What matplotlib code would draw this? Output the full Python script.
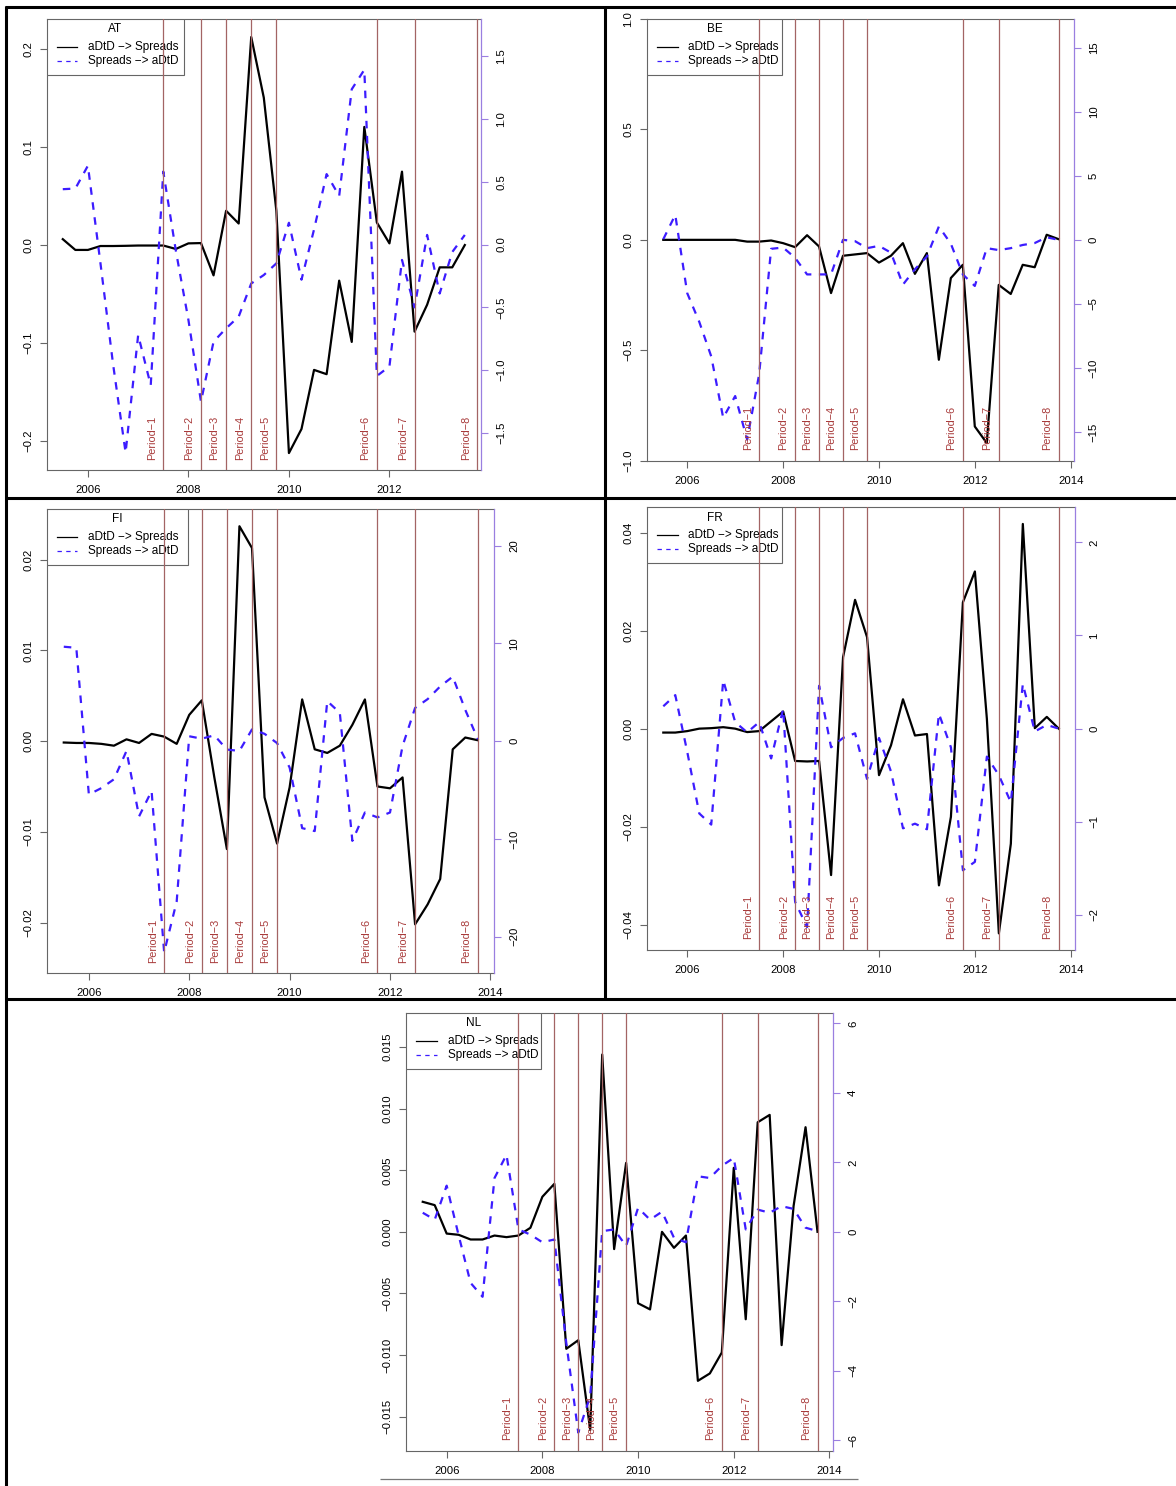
import matplotlib
matplotlib.use("Agg")
import matplotlib.pyplot as plt
import matplotlib.transforms as mtransforms
from matplotlib.lines import Line2D
from matplotlib.patches import Rectangle

plt.rcParams['font.family'] = ['Liberation Sans', 'DejaVu Sans']

# ---------------- data ----------------
QUARTERS = [2005.50, 2005.75, 2006.00, 2006.25, 2006.50, 2006.75, 2007.00, 2007.25,
            2007.50, 2007.75, 2008.00, 2008.25, 2008.50, 2008.75, 2009.00, 2009.25,
            2009.50, 2009.75, 2010.00, 2010.25, 2010.50, 2010.75, 2011.00, 2011.25,
            2011.50, 2011.75, 2012.00, 2012.25, 2012.50, 2012.75, 2013.00, 2013.25,
            2013.50, 2013.75]

PERIOD_DATES = [2007.50, 2008.25, 2008.75, 2009.25, 2009.75, 2011.75, 2012.50, 2013.75]
PERIOD_LABELS = ["Period\u22121", "Period\u22122", "Period\u22123", "Period\u22124",
                 "Period\u22125", "Period\u22126", "Period\u22127", "Period\u22128"]

SERIES_LABELS = ["aDtD \u2212> Spreads", "Spreads \u2212> aDtD"]

# AT (2005Q3 - 2013Q3, 33 quarters)
AT_DATES = QUARTERS[:33]
AT_ADTD_TO_SPREADS = [0.006, -0.005, -0.005, -0.001, -0.001, -0.0008, -0.0005, -0.0005,
                      -0.0005, -0.004, 0.0017, 0.002, -0.031, 0.035, 0.022, 0.2126,
                      0.1506, 0.035, -0.2126, -0.188, -0.1276, -0.132, -0.0364, -0.099,
                      0.1207, 0.023, 0.0017, 0.075, -0.0885, -0.061, -0.0228, -0.0228,
                      0.0]
AT_SPREADS_TO_ADTD = [0.44, 0.445, 0.627, -0.15, -0.95, -1.656, -0.72, -1.12,
                      0.58, -0.05, -0.6, -1.25, -0.773, -0.667, -0.574, -0.31,
                      -0.243, -0.15, 0.173, -0.28, 0.12, 0.56, 0.386, 1.235,
                      1.39, -1.046, -0.97, -0.123, -0.5, 0.076, -0.39, -0.06,
                      0.076]

# BE
BE_DATES = QUARTERS
BE_ADTD_TO_SPREADS = [0.0, 0.0, 0.0, 0.0, 0.0, 0.0, 0.0, -0.008,
                      -0.008, -0.003, -0.015, -0.033, 0.021, -0.03, -0.241, -0.072,
                      -0.066, -0.06, -0.103, -0.072, -0.015, -0.154, -0.06, -0.543,
                      -0.173, -0.113, -0.845, -0.92, -0.204, -0.245, -0.113, -0.124,
                      0.023, 0.003]
BE_SPREADS_TO_ADTD = [0.05, 1.95, -4.17, -6.4, -9.1, -13.9, -12.2, -15.6,
                      -10.5, -0.7, -0.6, -1.4, -2.7, -2.7, -2.7, 0.0,
                      -0.1, -0.65, -0.47, -1.0, -3.5, -2.3, -1.3, 1.04,
                      -0.3, -2.7, -3.6, -0.65, -0.8, -0.65, -0.4, -0.25,
                      0.2, 0.0]

# FI
FI_DATES = QUARTERS
FI_ADTD_TO_SPREADS = [-0.00015, -0.0002, -0.0002, -0.0003, -0.0005, 0.0002, -0.0002, 0.0008,
                      0.0005, -0.0003, 0.0029, 0.0045, -0.004, -0.0119, 0.0237, 0.0213,
                      -0.0062, -0.0113, -0.0051, 0.0046, -0.0009, -0.0013, -0.0005, 0.0018,
                      0.0046, -0.005, -0.0052, -0.004, -0.0202, -0.018, -0.0152, -0.0009,
                      0.0004, 0.0001]
FI_SPREADS_TO_ADTD = [9.66, 9.55, -5.46, -4.8, -3.9, -1.0, -7.7, -5.1,
                      -21.6, -16.4, 0.5, 0.25, 0.6, -0.86, -1.0, 1.2,
                      0.75, -0.2, -2.7, -8.9, -9.2, 4.1, 2.9, -10.2,
                      -7.3, -7.8, -7.3, -0.5, 3.4, 4.3, 5.6, 6.6,
                      3.2, 0.2]

# FR
FR_DATES = QUARTERS
FR_ADTD_TO_SPREADS = [-0.0008, -0.0008, -0.0005, 0.0, 0.0001, 0.0003, 0.0, -0.0007,
                      -0.0005, 0.0015, 0.0035, -0.0066, -0.0067, -0.0066, -0.0299, 0.0146,
                      0.0263, 0.0187, -0.0095, -0.0034, 0.006, -0.0014, -0.0011, -0.032,
                      -0.018, 0.0258, 0.0321, 0.002, -0.0418, -0.0235, 0.0418, 0.0001,
                      0.0024, 0.0]
FR_SPREADS_TO_ADTD = [0.24, 0.36, -0.25, -0.91, -1.03, 0.52, 0.07, -0.04,
                      0.07, -0.32, 0.21, -1.86, -2.13, 0.46, -0.2, -0.1,
                      -0.05, -0.54, -0.1, -0.46, -1.07, -1.02, -1.08, 0.16,
                      -0.2, -1.52, -1.43, -0.3, -0.5, -0.79, 0.48, -0.03,
                      0.04, 0.0]

# NL
NL_DATES = QUARTERS
NL_ADTD_TO_SPREADS = [0.00244, 0.00217, -0.00014, -0.00024, -0.00062, -0.00062, -0.0003, -0.00043,
                      -0.0003, 0.00033, 0.00285, 0.0039, -0.0095, -0.0088, -0.0161, 0.0144,
                      -0.0014, 0.0056, -0.0058, -0.0063, 0.0, -0.0013, -0.0003, -0.0121,
                      -0.0115, -0.0098, 0.0052, -0.0071, 0.0089, 0.0095, -0.0092, 0.0021,
                      0.0085, 0.0]
NL_SPREADS_TO_ADTD = [0.55, 0.35, 1.33, -0.1, -1.47, -1.87, 1.55, 2.22,
                      0.07, -0.08, -0.3, -0.22, -3.2, -5.78, -4.73, 0.02,
                      0.07, -0.41, 0.69, 0.35, 0.58, -0.17, -0.3, 1.6,
                      1.55, 1.9, 2.13, 0.07, 0.64, 0.55, 0.74, 0.66,
                      0.12, 0.02]

# tick values / labels
X_TICKS_AT = [2006, 2008, 2010, 2012]
X_TICKS = [2006, 2008, 2010, 2012, 2014]

AT_LEFT_TICKS = [-0.2, -0.1, 0.0, 0.1, 0.2]
AT_LEFT_LABELS = ["\u22120.2", "\u22120.1", "0.0", "0.1", "0.2"]
AT_RIGHT_TICKS = [-1.5, -1.0, -0.5, 0.0, 0.5, 1.0, 1.5]
AT_RIGHT_LABELS = ["\u22121.5", "\u22121.0", "\u22120.5", "0.0", "0.5", "1.0", "1.5"]

BE_LEFT_TICKS = [-1.0, -0.5, 0.0, 0.5, 1.0]
BE_LEFT_LABELS = ["\u22121.0", "\u22120.5", "0.0", "0.5", "1.0"]
BE_RIGHT_TICKS = [-15, -10, -5, 0, 5, 10, 15]
BE_RIGHT_LABELS = ["\u221215", "\u221210", "\u22125", "0", "5", "10", "15"]

FI_LEFT_TICKS = [-0.02, -0.01, 0.0, 0.01, 0.02]
FI_LEFT_LABELS = ["\u22120.02", "\u22120.01", "0.00", "0.01", "0.02"]
FI_RIGHT_TICKS = [-20, -10, 0, 10, 20]
FI_RIGHT_LABELS = ["\u221220", "\u221210", "0", "10", "20"]

FR_LEFT_TICKS = [-0.04, -0.02, 0.0, 0.02, 0.04]
FR_LEFT_LABELS = ["\u22120.04", "\u22120.02", "0.00", "0.02", "0.04"]
FR_RIGHT_TICKS = [-2, -1, 0, 1, 2]
FR_RIGHT_LABELS = ["\u22122", "\u22121", "0", "1", "2"]

NL_LEFT_TICKS = [-0.015, -0.010, -0.005, 0.0, 0.005, 0.010, 0.015]
NL_LEFT_LABELS = ["\u22120.015", "\u22120.010", "\u22120.005", "0.000", "0.005", "0.010", "0.015"]
NL_RIGHT_TICKS = [-6, -4, -2, 0, 2, 4, 6]
NL_RIGHT_LABELS = ["\u22126", "\u22124", "\u22122", "0", "2", "4", "6"]

# ---------------- styling ----------------
W, H = 1176, 1486
fig = plt.figure(figsize=(W / 100, H / 100), dpi=100)

BOX = '#666666'
PURPLE = '#9a7fe0'
BLUE = '#3c1cff'
PLINE = '#a36464'
PTEXT = '#a83a3a'
FS = 8.2


def fx(x):
    return x / W


def fy(y):
    return 1 - y / H


def panel(name, box, dates, black, blue, xlim, xticks, ylim1, yt1, yl1,
          ylim2, yt2, yl2, leg_w):
    L, T, R, B = box
    ax = fig.add_axes([fx(L), fy(B), (R - L) / W, (B - T) / H])
    ax.plot(dates, black, color='black', lw=1.6, zorder=2)
    ax.set_ylim(*ylim1)
    ax.set_yticks(yt1, yl1, rotation=90, va='center', fontsize=FS)
    ax.set_xticks(xticks, [str(t) for t in xticks], fontsize=FS)
    for sp in ax.spines.values():
        sp.set_color(BOX)
        sp.set_linewidth(0.8)
    ax.spines['right'].set_visible(False)
    ax.tick_params(axis='x', length=4.7, width=0.8, color=BOX, pad=6.0)
    ax.tick_params(axis='y', length=4.7, width=0.8, color=BOX, pad=5.0)

    ax2 = ax.twinx()
    ax2.plot(dates, blue, color=BLUE, lw=1.6, dashes=(3.4, 3.4), zorder=2)
    ax2.set_ylim(*ylim2)
    ax2.set_yticks(yt2, yl2, rotation=90, va='center', fontsize=FS)
    for k in ('left', 'top', 'bottom'):
        ax2.spines[k].set_visible(False)
    ax2.spines['right'].set_color(PURPLE)
    ax2.spines['right'].set_linewidth(0.9)
    ax2.tick_params(axis='y', length=4.7, width=0.8, color=PURPLE,
                    labelcolor='black', pad=6.0)

    # legend (drawn below the period lines, as in the original)
    h = 56
    rect = Rectangle((fx(L), fy(T + h)), leg_w / W, h / H, transform=fig.transFigure,
                     facecolor='white', edgecolor=BOX, lw=0.8, zorder=3)
    ax2.add_patch(rect)
    ax2.text(fx(L + leg_w / 2), fy(T + 10.5), name, transform=fig.transFigure,
             ha='center', va='center', fontsize=8.5, zorder=3.5)
    for i, (lab, col, ls) in enumerate(zip(SERIES_LABELS, ['black', BLUE],
                                           ['-', (0, (3.5, 3.5))])):
        yy = T + 28 + 14 * i
        ln = Line2D([fx(L + 10), fx(L + 30.5)], [fy(yy), fy(yy)], transform=fig.transFigure,
                    color=col, lw=0.9, linestyle=ls, zorder=3.5)
        ax2.add_line(ln)
        ax2.text(fx(L + 41.5), fy(yy), lab, transform=fig.transFigure,
                 ha='left', va='center', fontsize=8.5, zorder=3.5)

    # period lines and labels
    trans = (mtransforms.blended_transform_factory(ax2.transData, ax2.transAxes)
             + mtransforms.ScaledTranslation(-6.5 / 100, 10.5 / 100, fig.dpi_scale_trans))
    for d, lab in zip(PERIOD_DATES, PERIOD_LABELS):
        ax2.axvline(d, color=PLINE, lw=0.9, zorder=4)
        ax2.text(d, 0, lab, transform=trans, rotation=90, ha='right', va='bottom',
                 color=PTEXT, fontsize=7.8, zorder=5)
    ax.set_xlim(*xlim)
    return ax, ax2


panel('AT', (46.7, 19, 481.4, 470), AT_DATES, AT_ADTD_TO_SPREADS, AT_SPREADS_TO_ADTD,
      (2005.18, 2013.83), X_TICKS_AT, (-0.2299, 0.231), AT_LEFT_TICKS, AT_LEFT_LABELS,
      (-1.794, 1.794), AT_RIGHT_TICKS, AT_RIGHT_LABELS, 137)
panel('BE', (647, 19, 1074, 460.7), BE_DATES, BE_ADTD_TO_SPREADS, BE_SPREADS_TO_ADTD,
      (2005.16, 2014.07), X_TICKS, (-1.0, 1.0), BE_LEFT_TICKS, BE_LEFT_LABELS,
      (-17.25, 17.25), BE_RIGHT_TICKS, BE_RIGHT_LABELS, 135)
panel('FI', (46.7, 509, 494.4, 973.3), FI_DATES, FI_ADTD_TO_SPREADS, FI_SPREADS_TO_ADTD,
      (2005.16, 2014.08), X_TICKS, (-0.0256, 0.0256), FI_LEFT_TICKS, FI_LEFT_LABELS,
      (-23.75, 23.75), FI_RIGHT_TICKS, FI_RIGHT_LABELS, 141.5)
panel('FR', (647, 507.3, 1074.6, 950), FR_DATES, FR_ADTD_TO_SPREADS, FR_SPREADS_TO_ADTD,
      (2005.16, 2014.08), X_TICKS, (-0.0452, 0.0452), FR_LEFT_TICKS, FR_LEFT_LABELS,
      (-2.376, 2.376), FR_RIGHT_TICKS, FR_RIGHT_LABELS, 135)
panel('NL', (406, 1012.7, 833.3, 1451), NL_DATES, NL_ADTD_TO_SPREADS, NL_SPREADS_TO_ADTD,
      (2005.15, 2014.08), X_TICKS, (-0.0178, 0.0178), NL_LEFT_TICKS, NL_LEFT_LABELS,
      (-6.31, 6.31), NL_RIGHT_TICKS, NL_RIGHT_LABELS, 135)

# ---------------- table frame ----------------
def hline(y, x0, x1, color='black', lw=2.2):
    fig.add_artist(Line2D([fx(x0), fx(x1)], [fy(y), fy(y)], transform=fig.transFigure,
                          color=color, lw=lw, solid_capstyle='butt'))


def vline(x, y0, y1, color='black', lw=2.2):
    fig.add_artist(Line2D([fx(x), fx(x)], [fy(y0), fy(y1)], transform=fig.transFigure,
                          color=color, lw=lw, solid_capstyle='butt'))


hline(6.7, 4.5, 1176)
hline(497.5, 4.5, 1176)
hline(999.3, 4.5, 1176)
vline(5.8, 5.5, 1486)
vline(605, 5.5, 999.3)
hline(1479, 380, 858, color='#777777', lw=0.9)

fig.savefig('out.png', dpi=100)
